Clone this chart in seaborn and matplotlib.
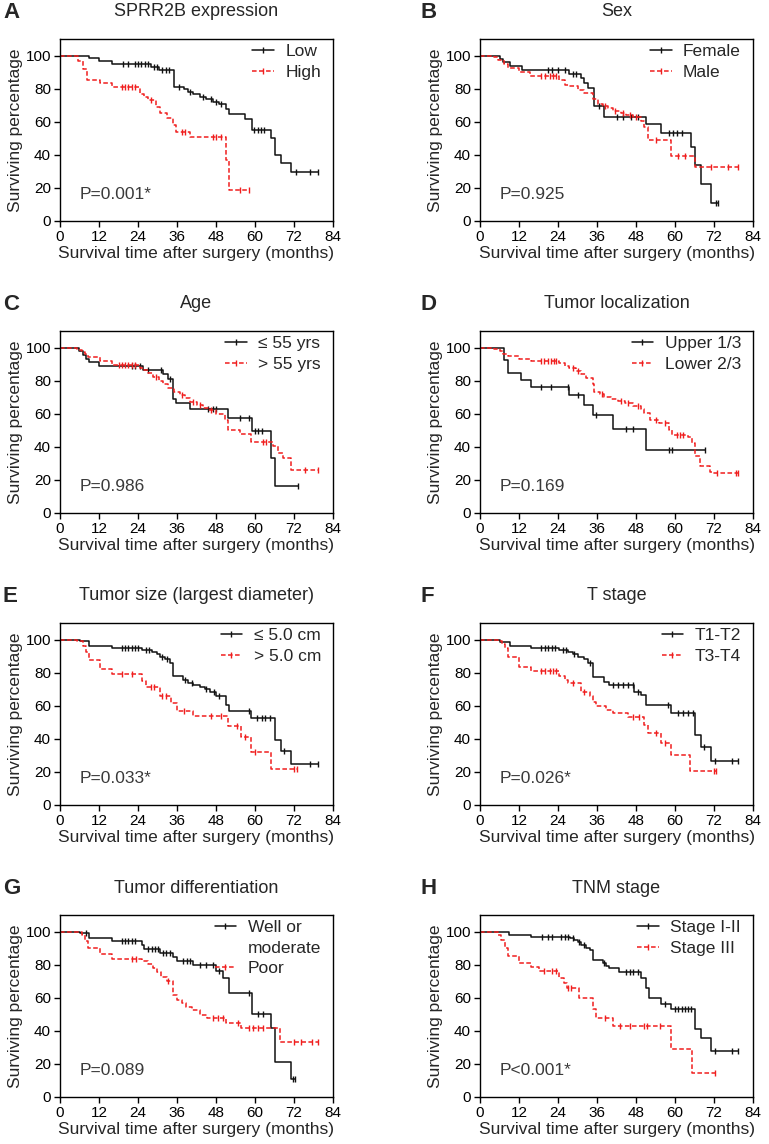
import numpy as np
import pandas as pd
import seaborn as sns
import matplotlib
matplotlib.use("Agg")
import matplotlib.pyplot as plt
from matplotlib.lines import Line2D

# ---- panel texts ----
letters = ["A", "B", "C", "D", "E", "F", "G", "H"]
titles = ["SPRR2B expression", "Sex", "Age", "Tumor localization",
          "Tumor size (largest diameter)", "T stage", "Tumor differentiation", "TNM stage"]
group_labels = [("Low", "High"), ("Female", "Male"), ("\u2264 55 yrs", "> 55 yrs"),
                ("Upper 1/3", "Lower 2/3"), ("\u2264 5.0 cm", "> 5.0 cm"), ("T1-T2", "T3-T4"),
                ("Well or\nmoderate", "Poor"), ("Stage I-II", "Stage III")]
p_values = ["P=0.001*", "P=0.925", "P=0.986", "P=0.169",
            "P=0.033*", "P=0.026*", "P=0.089", "P<0.001*"]

# ---- survival curves: step times (months), survival after step (%), censored times ----
# A - SPRR2B
a1_t = [9, 12, 16, 28, 30.5, 35, 38, 39.5, 41, 43, 45, 47, 49, 51, 52, 57, 59, 65, 66, 68, 71]
a1_s = [98.5, 96.5, 94.8, 93.3, 91, 81, 79.5, 78, 76.5, 75, 73.5, 72, 70.5, 67.5, 64.5, 61.5, 55, 50, 40, 35, 29.5]
a1_c = [19.5, 21, 23, 24, 25, 26, 27, 29, 29.7, 31.5, 32.5, 33.5, 36.5, 40, 44, 46.5, 48, 49.5,
        59.8, 60.8, 61.8, 62.8, 72.5, 77, 79.4]
a2_t = [5.6, 7, 8.4, 12.3, 16, 24.6, 25.8, 27.1, 29.5, 30.9, 32.8, 34.8, 35.8, 40, 51.2, 52]
a2_s = [97, 92, 85, 83.5, 81, 77, 75, 73, 69, 65, 62.5, 58, 54, 50.5, 37, 19]
a2_c = [19, 20, 21, 22, 23, 28, 37.5, 38.5, 47, 48, 49.5, 55.3, 58.2]

# B - Sex
b1_t = [6, 7, 9.3, 12.8, 27.5, 31, 32, 33.2, 35, 38.3, 51.1, 55.8, 64.8, 66, 67.9, 71]
b1_s = [97.8, 95.8, 93.8, 91.3, 89, 86.3, 83.7, 80.6, 69.6, 63, 58.5, 53.4, 45, 34, 22.4, 11]
b1_c = [20.8, 22, 24, 26, 28.5, 29.5, 36.5, 42, 44, 46.5, 48.5, 58, 59.3, 60.5, 62, 72.5, 73.2]
b2_t = [4.4, 5.6, 7.5, 8.7, 12.1, 15.4, 24.4, 26, 27.5, 30.3, 32.1, 34.7, 36.2, 37.8, 39.3, 40.9,
        43.4, 45, 47, 49.6, 50.6, 51.6, 58.8, 66]
b2_s = [99, 97.5, 95, 92.3, 90.3, 87.7, 85.3, 82.3, 81.3, 79.2, 77.2, 73.6, 70.8, 69.6, 68, 66.7,
        65, 64, 63, 60.7, 57, 49, 39.3, 32.5]
b2_c = [18.8, 20, 21.5, 22.5, 23.4, 38.5, 41.5, 44, 46, 48, 54, 61, 63, 71, 76.3, 79.4]

# C - Age
c1_t = [5.9, 7, 8, 9, 12.1, 25.4, 31.8, 33.3, 34.8, 35.6, 40, 51.7, 59.2, 65, 66]
c1_s = [98, 95.4, 93, 91, 88.8, 86.4, 83.8, 80.8, 68.7, 66.3, 63, 57.7, 49.7, 33.3, 16.6]
c1_c = [22, 23, 24.6, 27.1, 31.2, 33.8, 45.6, 47.1, 48.1, 55.3, 58, 60, 61, 62, 73.2]
c2_t = [5.1, 6.7, 7.7, 8.7, 12.3, 15.9, 24.6, 25.8, 27.1, 28.7, 30.5, 31.8, 33.3, 35, 36.9, 38.4,
        40, 42, 44, 45.6, 48.1, 50.7, 51.7, 55.3, 58.9, 65.6, 67.1, 68.6, 71.2]
c2_s = [98.8, 97.4, 96, 94.4, 91.8, 89.4, 87.8, 86.4, 84.4, 82.4, 79.8, 77.8, 75.8, 73.3, 71.3, 69.3,
        67.3, 65.3, 63.7, 62.3, 59.7, 56.3, 50.3, 47.7, 42.7, 40.3, 36.3, 33.3, 25.7]
c2_c = [18, 19, 20, 21, 22, 23, 29.5, 37.5, 41, 43, 46.5, 62.5, 63.5, 75.3, 79.4]

# D - Tumor localization
d1_t = [7.5, 8.5, 12.6, 15.7, 27.5, 32.1, 34.7, 40.9, 51.1]
d1_s = [92.4, 84.4, 80.4, 76.4, 71.3, 65.3, 59.3, 50.9, 38.3]
d1_c = [18.8, 21.9, 27, 30.1, 35.8, 45, 47, 58, 59, 69.1]
d2_t = [4.4, 6, 7, 8.5, 12.1, 15.7, 24.4, 26, 27.5, 29.6, 31.1, 32.7, 34.7, 35.2, 36.8, 38.3, 40.4,
        42.4, 44.5, 47, 49.6, 50.6, 52.2, 55.2, 58.3, 59, 64, 65.2, 66, 67.6, 70.7, 71.7]
d2_s = [99.2, 98, 96.4, 95, 93, 91.8, 90.4, 88.8, 87.8, 85.8, 83.8, 81.8, 77.8, 73.3, 71.7, 70.3, 68.9,
        67.7, 66.3, 64.9, 62.9, 60.3, 56.3, 54.3, 49.9, 47.3, 45.7, 42.3, 34.3, 28.7, 24.8, 24]
d2_c = [18.8, 19.8, 20.8, 21.8, 22.8, 23.4, 28.5, 30.3, 37.5, 43.5, 45.5, 48.5, 54, 57, 60.5, 61.5,
        62.5, 73, 78.9, 79.4]

# E - Tumor size
e1_t = [6.1, 9, 15.9, 25.1, 28.2, 29.7, 30.7, 32.3, 33.8, 34.8, 37.9, 39.4, 41, 43, 44.6, 46.1, 48.1,
        51, 52, 58.9, 66, 68.1, 71.2]
e1_s = [99, 96, 95, 93.6, 92.6, 91.2, 89.6, 88, 86, 77.9, 75.5, 73.5, 72.5, 71.5, 69.9, 68.5, 65.9,
        60.4, 57, 52.8, 39.4, 32.9, 24.9]
e1_c = [19, 20, 21, 22, 23, 24, 26.5, 27.5, 31.5, 33, 38.5, 40.5, 45, 47.5, 49, 58, 60.5, 62, 63, 64.5,
        69, 76.8, 79.4]
e2_t = [5.3, 7, 8, 9, 12.3, 15.9, 25.1, 26.6, 30.7, 34.3, 35.9, 41, 51.7, 55.8, 58.9, 65]
e2_s = [99, 96, 92.6, 87.6, 81.9, 78.9, 74.9, 71.5, 65.9, 61.8, 56.8, 53.8, 47.8, 41.4, 32.3, 21.7]
e2_c = [19, 22, 28, 29, 31.5, 32.5, 38, 46.6, 49.6, 54.5, 57, 60, 72, 73]

# F - T stage
f1_t = [6, 9.3, 15.7, 24.4, 27, 28.5, 30.1, 31.9, 33.2, 34.7, 38.1, 39.8, 47.5, 49.6, 51.1, 58.8,
        66, 67.9, 71.2]
f1_s = [98.6, 96, 94.6, 93.6, 92.6, 91.2, 89.6, 88, 86, 77.5, 74.5, 72.5, 68.5, 66.5, 60.4, 55.8,
        42.4, 35.3, 26.3]
f1_c = [18.8, 20, 21, 22, 23, 25.5, 26.5, 29, 33.8, 41, 42.5, 44, 45.5, 47, 48.5, 57.8, 61, 62.5,
        64, 65.5, 69, 72.3, 77.5, 79.4]
f2_t = [5.4, 6.7, 7.7, 8.7, 12.1, 15.7, 24.4, 26, 27, 31.1, 33.7, 34.7, 35.7, 38.8, 40.9, 45.5,
        50.6, 51.7, 55.6, 58.8, 64.5]
f2_s = [99, 97.6, 94.6, 89.2, 83.5, 80.9, 77.9, 75.5, 73.5, 68.5, 65.9, 62.4, 59.8, 57.4, 55.8, 53.4,
        48.4, 43.4, 37.3, 30.3, 20.3]
f2_c = [18.8, 20, 21.5, 22.5, 23.5, 28.5, 32, 47, 49, 54, 57, 72, 72.7]

# G - Tumor differentiation
g1_t = [6.1, 9, 15.9, 25.1, 25.8, 30.7, 34.8, 35.9, 41, 48.1, 50.2, 52, 59.2, 65, 66, 71.2]
g1_s = [99.4, 96, 94.4, 91.9, 89.3, 87.3, 84.9, 82.3, 79.8, 76.2, 71.8, 63.1, 50, 41.9, 21, 10.9]
g1_c = [8, 19, 20, 21, 22, 23, 27.1, 28.2, 29.2, 30.2, 31.7, 32.7, 33.8, 37.9, 39, 40, 43, 45, 47,
        49, 58.1, 61, 62.5, 71.7, 72.2]
g2_t = [5.3, 6.7, 7.7, 8.7, 12.3, 15.9, 25.1, 27.1, 28.5, 29.7, 31.2, 32.8, 34.8, 35.9, 37.4, 38.9,
        40.5, 43, 45.1, 51.2, 55.8, 67.6]
g2_s = [99.5, 98, 94.4, 90.3, 86.3, 83.5, 82.3, 80.2, 77.8, 75.4, 72.8, 70.2, 61.7, 58.7, 56.7, 54.6,
        52.6, 49.6, 47.6, 44.6, 41.9, 33.5]
g2_c = [22, 23.5, 33.3, 47, 48.5, 50, 54.8, 58, 59.5, 61, 62.5, 72, 74, 77.5, 79.4]

# H - TNM stage
h1_t = [9, 15.7, 27.8, 29, 30.1, 31.1, 32.7, 33.7, 34.7, 37.8, 38.8, 39.8, 42.9, 49.6, 51.1, 52,
        55.8, 58.8, 66, 68.1, 71.2]
h1_s = [98, 97, 96, 95, 93.5, 91.9, 90.3, 88.9, 82.9, 80.8, 79.2, 77.8, 75.8, 71.8, 65.7, 59.7,
        56, 53.2, 41.1, 35.5, 27.8]
h1_c = [19, 21, 22, 25, 26, 27, 28.5, 30.5, 32, 38.2, 45, 46, 47, 48.5, 57, 60, 61, 62, 63, 64, 65,
        72.3, 77.5, 79.4]
h2_t = [5.4, 6.5, 7.7, 8.7, 12.1, 15.7, 18, 24.4, 25.8, 26.8, 30.6, 34.7, 35.7, 40.9, 58.8, 65.2]
h2_s = [98, 95, 89.9, 85.5, 80.8, 78.8, 76.2, 71.8, 68.8, 66.1, 59.7, 53.2, 47.6, 43.1, 28.8, 14.3]
h2_c = [19.8, 22, 23.5, 27, 28, 38.5, 43, 46, 50.5, 51.5, 55.5, 72.2]

curves = [((a1_t, a1_s, a1_c), (a2_t, a2_s, a2_c)),
          ((b1_t, b1_s, b1_c), (b2_t, b2_s, b2_c)),
          ((c1_t, c1_s, c1_c), (c2_t, c2_s, c2_c)),
          ((d1_t, d1_s, d1_c), (d2_t, d2_s, d2_c)),
          ((e1_t, e1_s, e1_c), (e2_t, e2_s, e2_c)),
          ((f1_t, f1_s, f1_c), (f2_t, f2_s, f2_c)),
          ((g1_t, g1_s, g1_c), (g2_t, g2_s, g2_c)),
          ((h1_t, h1_s, h1_c), (h2_t, h2_s, h2_c))]

sns.set_theme(style="ticks")
plt.rcParams["font.family"] = ["Liberation Sans", "DejaVu Sans"]

RED = "#f01e1e"
BLACK = "#111111"
DASH = (0, (3, 1.6))
styles = [(BLACK, "-"), (RED, DASH)]


def draw_km(ax, t, s, cens, color, ls):
    end = max(cens[-1], t[-1])
    x = [0] + list(t) + [end]
    y = [100] + list(s) + [s[-1]]
    df = pd.DataFrame({"t": x, "s": y})
    sns.lineplot(data=df, x="t", y="s", ax=ax, color=color, linestyle=ls, lw=1.1,
                 drawstyle="steps-post", estimator=None, sort=False)
    tt = np.array([0] + list(t))
    ss = np.array([100] + list(s))
    idx = np.searchsorted(tt, cens, side="right") - 1
    ax.plot(cens, ss[idx], ls="none", marker="|", ms=4.5, mew=1.0, color=color)


fig = plt.figure(figsize=(7.69, 11.44), dpi=100)
W, H = 769, 1144
col_left = [60, 480]
row_top = [39, 331, 623, 915]
ax_w, ax_h = 273, 182

for i in range(8):
    r, c = divmod(i, 2)
    ax = fig.add_axes([col_left[c] / W, 1 - (row_top[r] + ax_h) / H, ax_w / W, ax_h / H])
    for (t, s, cens), (color, ls) in zip(curves[i], styles):
        draw_km(ax, t, s, cens, color, ls)

    ax.set_xlim(0, 84)
    ax.set_ylim(0, 110)
    ax.set_xticks(range(0, 85, 12))
    ax.set_yticks(range(0, 101, 20))
    ax.tick_params(labelsize=11, length=4, width=1, colors="black", pad=2.5)
    for sp in ax.spines.values():
        sp.set_linewidth(1.0)
        sp.set_color("black")
    ax.set_xlabel("Survival time after surgery (months)", fontsize=12.5, labelpad=1.5)
    ax.set_ylabel("Surviving percentage", fontsize=12.5, labelpad=2)

    ax.text(0.5, 1 + 27 / ax_h, titles[i], transform=ax.transAxes, ha="center", va="center",
            fontsize=13)
    lx = 3 if c == 0 else 421
    fig.text(lx / W, 1 - (row_top[r] - 27) / H, letters[i], ha="left", va="center",
             fontsize=16, fontweight="bold")

    ax.text(6, 16, p_values[i], fontsize=12.5, color="#3a3a3a", va="center", ha="left")

    lab1, lab2 = group_labels[i]
    h1 = Line2D([], [], color=BLACK, lw=1.1, marker="|", ms=5, mew=1)
    h2 = Line2D([], [], color=RED, lw=1.1, ls=DASH, marker="|", ms=5, mew=1)
    if "\n" in lab1:
        first, second = lab1.split("\n")
        blank = Line2D([], [], color="none")
        handles, labels = [h1, blank, h2], [first, second, lab2]
    else:
        handles, labels = [h1, h2], [lab1, lab2]
    ax.legend(handles, labels, loc="upper right", bbox_to_anchor=(0.975, 1.0), frameon=False,
              fontsize=12.5, numpoints=1, handlelength=1.25, handletextpad=0.65,
              labelspacing=0.3, borderaxespad=0.2, borderpad=0.1)

fig.savefig("out.png", dpi=100)
